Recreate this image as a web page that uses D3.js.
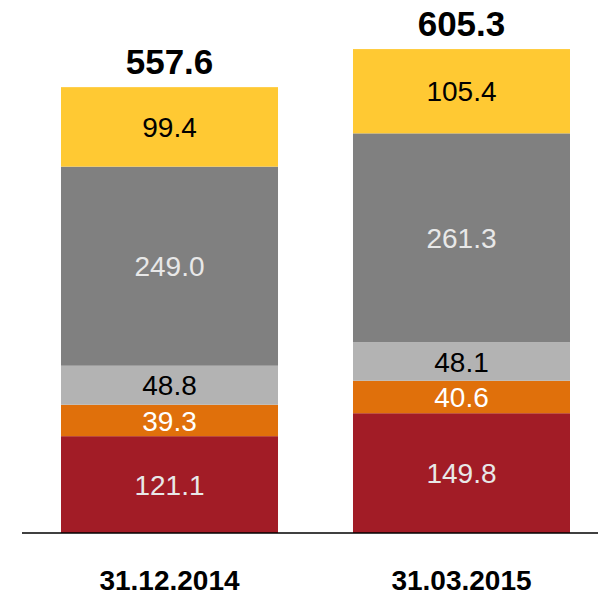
<!DOCTYPE html>
<html>
<head>
<meta charset="utf-8">
<script src="https://d3js.org/d3.v7.min.js"></script>
<style>
  body { margin: 0; background: #fff; }
  svg { display: block; font-family: "Liberation Sans", Arial, sans-serif; }
</style>
</head>
<body>
<svg width="598" height="595"></svg>
<script>
const categories = ["31.12.2014", "31.03.2015"];
const seriesNames = ["s1", "s2", "s3", "s4", "s5"];
const values = [
  [121.1, 39.3, 48.8, 249.0, 99.4],
  [149.8, 40.6, 48.1, 261.3, 105.4]
];
const totals = ["557.6", "605.3"];
const colors = ["#a21c26", "#e0700b", "#b3b3b3", "#808080", "#ffc933"];
const textColors = ["#e8e8e8", "#ffffff", "#000000", "#e8e8e8", "#000000"];

const svg = d3.select("svg");
const baseY = 533;

const x = d3.scaleBand()
  .domain(categories)
  .range([22, 609])
  .paddingInner(0.2568)
  .paddingOuter(0.1336);

const y = d3.scaleLinear()
  .domain([0, 605.3])
  .range([baseY, 49]);

const rows = categories.map((c, i) => {
  const r = { cat: c };
  seriesNames.forEach((s, j) => r[s] = values[i][j]);
  return r;
});
const stack = d3.stack().keys(seriesNames)(rows);

stack.forEach((layer, j) => {
  const g = svg.append("g");
  g.selectAll("rect")
    .data(layer)
    .enter()
    .append("rect")
    .attr("x", d => x(d.data.cat))
    .attr("y", d => y(d[1]))
    .attr("width", x.bandwidth())
    .attr("height", d => y(d[0]) - y(d[1]))
    .attr("fill", colors[j]);
  g.selectAll("text")
    .data(layer)
    .enter()
    .append("text")
    .attr("x", d => x(d.data.cat) + x.bandwidth() / 2)
    .attr("y", d => (y(d[0]) + y(d[1])) / 2)
    .attr("dy", "0.36em")
    .attr("text-anchor", "middle")
    .attr("font-size", 28)
    .attr("fill", textColors[j])
    .text(d => (d[1] - d[0]).toFixed(1));
});

// totals
svg.append("g").selectAll("text")
  .data(categories)
  .enter()
  .append("text")
  .attr("x", d => x(d) + x.bandwidth() / 2)
  .attr("y", (d, i) => y(d3.sum(values[i])) - 13)
  .attr("text-anchor", "middle")
  .attr("font-size", 35)
  .attr("font-weight", "bold")
  .text((d, i) => totals[i]);

// baseline
svg.append("line")
  .attr("x1", 22)
  .attr("x2", 598)
  .attr("y1", baseY)
  .attr("y2", baseY)
  .attr("stroke", "#000")
  .attr("stroke-width", 1.5);

// category labels
svg.append("g").selectAll("text")
  .data(categories)
  .enter()
  .append("text")
  .attr("x", d => x(d) + x.bandwidth() / 2)
  .attr("y", 590)
  .attr("text-anchor", "middle")
  .attr("font-size", 28)
  .attr("font-weight", "bold")
  .text(d => d);
</script>
</body>
</html>
